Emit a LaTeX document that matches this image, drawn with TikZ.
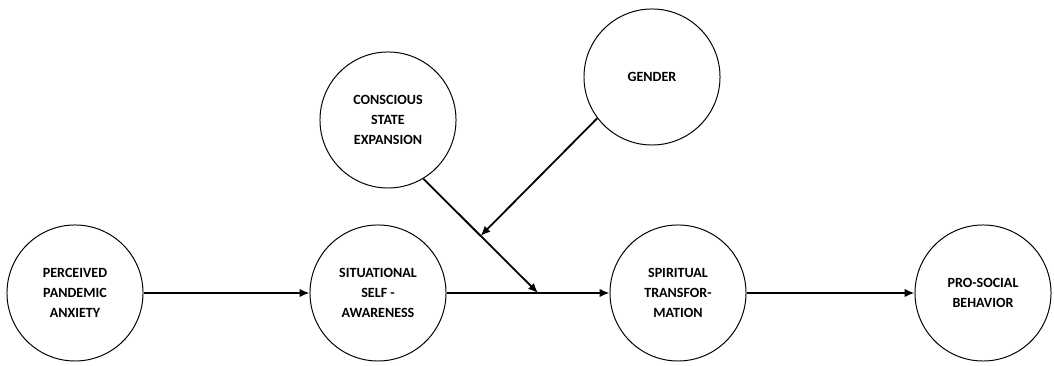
\documentclass[tikz,border=0pt]{standalone}
\usepackage{fontspec}
\setmainfont{Carlito}
\usetikzlibrary{arrows.meta}

\tikzset{
  construct/.style={draw, circle, line width=0.7pt, minimum size=3.4cm, inner sep=0pt,
    align=center, font=\fontsize{10}{14}\selectfont\bfseries},
  path arrow/.style={line width=1.3pt, -{Latex[length=7pt,width=6pt]}}
}

\begin{document}
\begin{tikzpicture}[x=0.025cm, y=0.025cm]
		\useasboundingbox (0,0) rectangle (1054,366);
		\node [construct] (ppa) at (75,73) {PERCEIVED\\PANDEMIC\\ANXIETY};
		\node [construct] (ssa) at (378,73) {SITUATIONAL\\SELF -\\AWARENESS};
		\node [construct] (st) at (678,73) {SPIRITUAL\\TRANSFOR-\\MATION};
		\node [construct] (psb) at (983,73) {PRO-SOCIAL\\BEHAVIOR};
		\node [construct] (cse) at (388,246) {CONSCIOUS\\STATE\\EXPANSION};
		\node [construct] (gen) at (652,289) {GENDER};
		\coordinate (j) at (538,73);
		\draw [path arrow] (ppa) -- (ssa);
		\draw [path arrow] (ssa) -- (st);
		\draw [path arrow] (st) -- (psb);
		\draw [path arrow] (cse.-59) -- coordinate[pos=0.5] (m) (j);
		\draw [path arrow] (gen.-143) -- (m);
		\end{tikzpicture}
\end{document}
